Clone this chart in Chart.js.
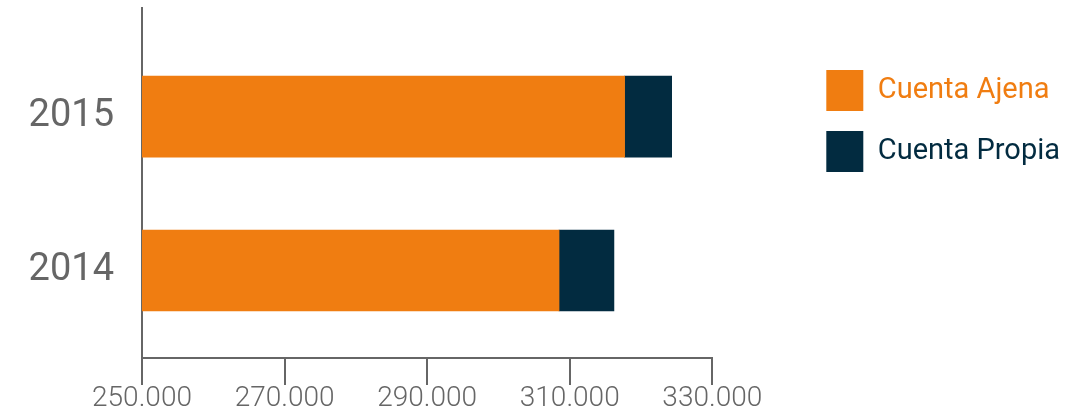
<!DOCTYPE html>
<html lang="es">
<head>
<meta charset="utf-8">
<title>Cuenta Ajena / Cuenta Propia</title>
<script src="https://cdn.jsdelivr.net/npm/chart.js@4/dist/chart.umd.min.js"></script>
<style>
  html, body { margin: 0; padding: 0; background: #fff; }
  #wrap { width: 1090px; height: 415px; }
</style>
</head>
<body>
<div id="wrap"><canvas id="chart" width="1090" height="415"></canvas></div>
<script>
// datos
const years = [2015, 2014];
const seriesNames = ['Cuenta Ajena', 'Cuenta Propia'];
const cuentaAjena = [317700, 308500];
const cuentaPropia = [6600, 7700];
const xTicksMin = 250000;
const xTicksMax = 330000;
const xTickStep = 20000;

const colors = {
  ajena: '#f07d11',
  propia: '#022b40',
  axis: '#666666',
  text: '#666666',
};
const seriesColors = [colors.ajena, colors.propia];

function miles(v) {
  return String(v).replace(/\B(?=(\d{3})+(?!\d))/g, '.');
}

function points(values) {
  return years.map((yr, i) => ({ y: yr, x: values[i] }));
}

new Chart(document.getElementById('chart'), {
  type: 'bar',
  data: {
    datasets: [
      {
        label: seriesNames[0],
        data: points(cuentaAjena),
        backgroundColor: colors.ajena,
        borderWidth: 0,
        barThickness: 81,
      },
      {
        label: seriesNames[1],
        data: points(cuentaPropia),
        backgroundColor: colors.propia,
        borderWidth: 0,
        barThickness: 81,
      },
    ],
  },
  options: {
    indexAxis: 'y',
    responsive: false,
    animation: false,
    events: [],
    layout: { padding: { top: 8, right: 20, bottom: 0, left: 0 } },
    plugins: {
      tooltip: { enabled: false },
      legend: {
        position: 'right',
        align: 'start',
        maxWidth: 320,
        title: { display: true, text: '', padding: { top: 30, bottom: 0 }, font: { size: 12, lineHeight: 1 } },
        labels: {
          boxWidth: 37,
          boxHeight: 41,
          padding: 20,
          font: { family: 'Roboto', size: 29 },
          generateLabels: (chart) => {
            const items = Chart.defaults.plugins.legend.labels.generateLabels(chart);
            items.forEach((it, i) => {
              it.fontColor = seriesColors[i];
              it.lineWidth = 0;
            });
            return items;
          },
        },
      },
    },
    scales: {
      x: {
        type: 'linear',
        stacked: true,
        min: xTicksMin,
        max: xTicksMax,
        border: { display: true, color: colors.axis, width: 2 },
        grid: { display: true, drawOnChartArea: false, drawTicks: true, tickLength: 27, color: colors.axis, lineWidth: 2 },
        ticks: {
          stepSize: xTickStep,
          padding: 0,
          color: colors.text,
          font: { family: 'Roboto', size: 28, weight: '300', lineHeight: 1 },
          callback: (v) => miles(v),
        },
        afterFit: (s) => { s.height = 57; },
      },
      y: {
        type: 'linear',
        stacked: true,
        offset: false,
        min: 2013.432,
        max: 2015.705,
        afterBuildTicks: (s) => { s.ticks = years.map((v) => ({ value: v })); },
        border: { display: true, color: colors.axis, width: 2 },
        grid: { display: true, offset: false, drawOnChartArea: false, drawTicks: true, tickLength: 28, color: 'rgba(0,0,0,0)' },
        ticks: {
          padding: 0,
          color: colors.text,
          font: { family: 'Roboto', size: 38 },
          callback: (v) => String(v),
        },
        afterFit: (s) => { s.width = 142; s.paddingTop = 0; s.paddingBottom = 0; },
      },
      // hueco entre el área del gráfico y la leyenda
      gap: {
        type: 'linear',
        axis: 'y',
        position: 'right',
        display: true,
        grid: { display: false },
        border: { display: false },
        ticks: { display: false },
        afterFit: (s) => { s.width = 94; s.paddingTop = 0; s.paddingBottom = 0; },
      },
    },
  },
});
</script>
</body>
</html>
